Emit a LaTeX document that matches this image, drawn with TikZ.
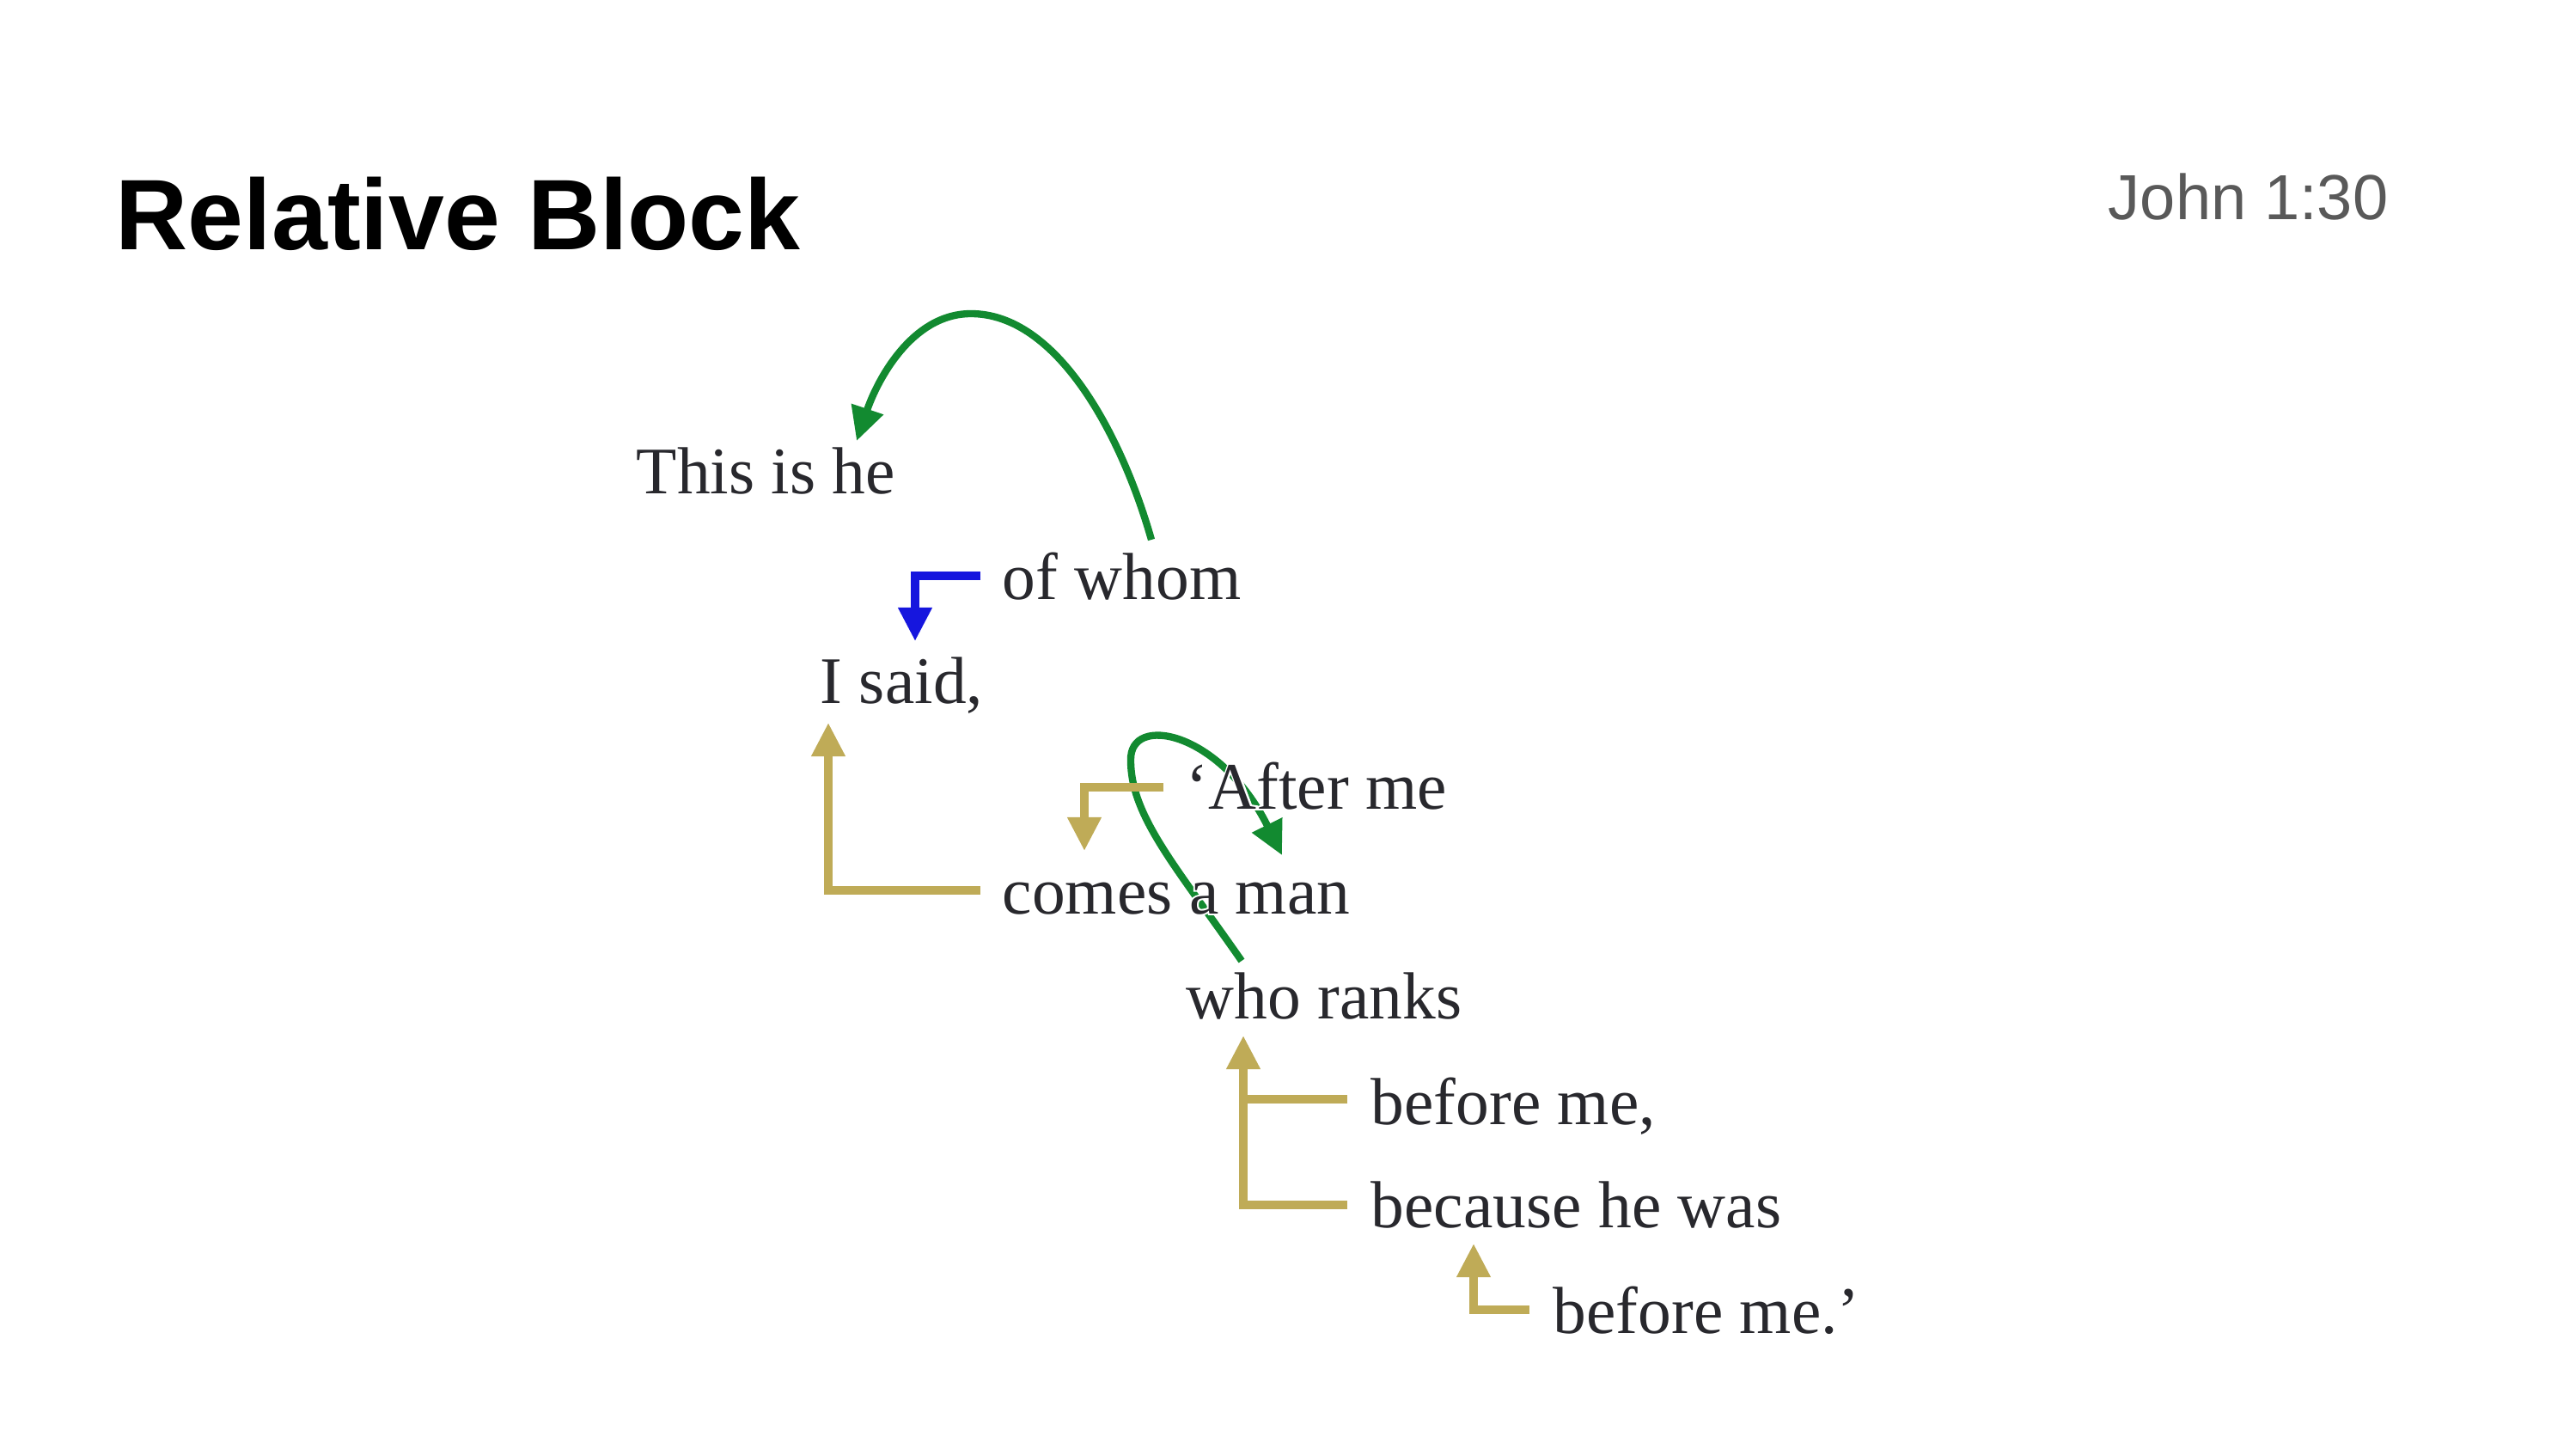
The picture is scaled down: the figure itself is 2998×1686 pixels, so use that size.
\documentclass[tikz,border=0pt]{standalone}
\usepackage{fontspec}
\setmainfont{Liberation Serif}
\newfontfamily\arialfont{Liberation Sans}
\newfontfamily\halofont[FakeBold=5]{Liberation Serif}
\usetikzlibrary{arrows.meta}
\definecolor{txtcol}{RGB}{40,40,45}
\definecolor{refcol}{RGB}{89,89,89}
\definecolor{bluecol}{RGB}{22,22,222}
\definecolor{goldcol}{RGB}{191,171,87}
\definecolor{greencol}{RGB}{18,138,48}
\pgfdeclarelayer{bg}
\pgfdeclarelayer{halo}
\pgfsetlayers{bg,halo,main}
\tikzset{
  word/.style={anchor=base west, inner sep=0pt, text=txtcol, font=\fontsize{18.6}{22}\selectfont},
  haloword/.style={anchor=base west, inner sep=0pt, text=white, font=\halofont\fontsize{18.6}{22}\selectfont},
  tip/.style={-{Triangle[length=9.4pt,width=9pt]}},
  bluelink/.style={tip, draw=bluecol, line width=2.2pt, line join=miter},
  goldlink/.style={tip, draw=goldcol, line width=2.2pt, line join=miter},
  goldbar/.style={draw=goldcol, line width=2.2pt},
  greenlink/.style={tip, draw=greencol, line width=2pt}
}
\begin{document}
\begin{tikzpicture}[x=0.2402pt,y=-0.2402pt]
\useasboundingbox (0,0) rectangle (2998,1686);
\node[anchor=base west, inner sep=0pt, font=\arialfont\bfseries\fontsize{28}{32}\selectfont] (title) at (134,291) {Relative Block};
\node[anchor=base west, inner sep=0pt, text=refcol, font=\arialfont\fontsize{17.8}{21}\selectfont] (ref) at (2453,256) {John 1:30};

\node[word] (thisis) at (740,574) {This is he};
\node[word] (ofwhom) at (1166,697) {of whom};
\node[word] (isaid) at (954,818) {I said,};
\node[word] (after) at (1380,941) {‘After me};
\node[word] (comes) at (1166,1063) {comes a man};
\node[word] (who) at (1380,1185) {who ranks};
\node[word] (before1) at (1595,1308) {before me,};
\node[word] (because) at (1595,1428) {because he was};
\node[word] (before2) at (1807,1551) {before me.’};

\begin{pgfonlayer}{halo}
\node[haloword] (afterhalo) at (after.base west) {‘After me};
\node[haloword] (comeshalo) at (comes.base west) {comes a man};
\end{pgfonlayer}

% blue: of whom -> I said
\draw[bluelink] ([shift={(-25,-27)}]ofwhom.base west) -| ([shift={(111,-72)}]isaid.base west);
% gold: comes a man -> I said
\draw[goldlink] ([shift={(-25,-27)}]comes.base west) -| ([shift={(10,23)}]isaid.base west);
% gold: After me -> comes a man
\draw[goldlink] ([shift={(-26,-25)}]after.base west) -| ([shift={(96,-73)}]comes.base west);
% gold: before me, / because he was -> who ranks
\coordinate (whotip) at ([shift={(67,20)}]who.base west);
\coordinate (b1start) at ([shift={(-27,-29)}]before1.base west);
\draw[goldlink] ([shift={(-27,-26)}]because.base west) -| (whotip);
\draw[goldbar] (b1start) -- (b1start -| whotip);
% gold: before me.' -> because he was
\draw[goldlink] ([shift={(-27,-27)}]before2.base west) -| ([shift={(120,19)}]because.base west);

\begin{pgfonlayer}{bg}
% green: of whom -> This is he
\coordinate (apexA) at (1130,365);
\draw[greenlink] ([shift={(174,-69)}]ofwhom.base west) .. controls +(-35,-123) and (1230,365) .. (apexA)
  .. controls (1060,365) and (1020,445) .. ([shift={(257,-61)}]thisis.base west);
% green: who ranks -> After me
\coordinate (loopL) at (1316,885);
\draw[greenlink] ([shift={(65,-67)}]who.base west) .. controls +(-75,-108) and (1316,950) .. (loopL)
  .. controls (1314,830) and (1420,850) .. ([shift={(112,54)}]after.base west);
\end{pgfonlayer}
\end{tikzpicture}
\end{document}
